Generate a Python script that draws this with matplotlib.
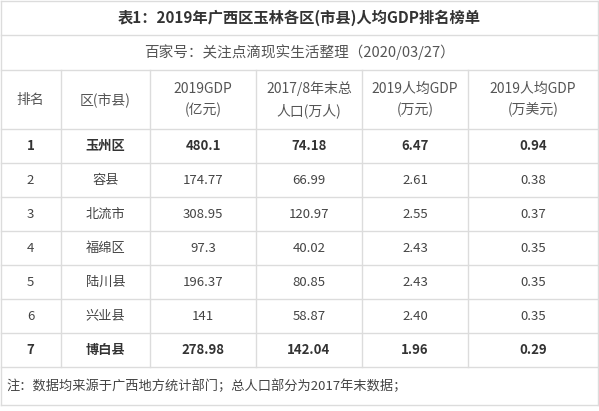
import matplotlib
matplotlib.use("Agg")
import matplotlib.pyplot as plt

plt.rcParams['font.family'] = ['Noto Sans CJK SC', 'DejaVu Sans']

title = "表1：2019年广西区玉林各区(市县)人均GDP排名榜单"
subtitle = "百家号：关注点滴现实生活整理（2020/03/27）"
headers = ["排名", "区(市县)", "2019GDP\n(亿元)", "2017/8年末总\n人口(万人)", "2019人均GDP\n(万元)", "2019人均GDP\n(万美元)"]
rank = ["1", "2", "3", "4", "5", "6", "7"]
regions = ["玉州区", "容县", "北流市", "福绵区", "陆川县", "兴业县", "博白县"]
gdp = ["480.1", "174.77", "308.95", "97.3", "196.37", "141", "278.98"]
pop = ["74.18", "66.99", "120.97", "40.02", "80.85", "58.87", "142.04"]
per_cny = ["6.47", "2.61", "2.55", "2.43", "2.43", "2.40", "1.96"]
per_usd = ["0.94", "0.38", "0.37", "0.35", "0.35", "0.35", "0.29"]
bold_rows = [0, 6]
note = "注：数据均来源于广西地方统计部门；总人口部分为2017年末数据；"

W, H = 599, 411
fig = plt.figure(figsize=(W/100, H/100), dpi=100)
ax = fig.add_axes([0, 0, 1, 1])
ax.set_xlim(0, W); ax.set_ylim(H, 0); ax.axis('off')

lc = '#dcdcdc'
xs = [0, 61, 150, 256, 362, 468, 598]
ys = [1, 35, 70, 129] + [129 + 34*(i+1) for i in range(7)] + [405]
tc = '#333333'

for y in ys:
    ax.plot([0.5, 598], [y, y], color=lc, lw=1)
for x in [0.5, 598]:
    ax.plot([x, x], [1, 405], color=lc, lw=1)
for x in xs[1:-1]:
    ax.plot([x, x], [70, ys[-2]], color=lc, lw=1)

ax.text(W/2, 18, title, ha='center', va='center', fontsize=11, fontweight='bold', color=tc)
ax.text(W/2, 52.5, subtitle, ha='center', va='center', fontsize=10.5, color='#555555')
for i, h in enumerate(headers):
    ax.text((xs[i]+xs[i+1])/2, 99.5, h, ha='center', va='center', fontsize=10,
            color='#555555', linespacing=1.6)
cols = [rank, regions, gdp, pop, per_cny, per_usd]
for r in range(7):
    yc = 129 + 34*r + 17
    for c, col in enumerate(cols):
        ax.text((xs[c]+xs[c+1])/2, yc, col[r], ha='center', va='center', fontsize=9.5,
                color=tc if r in bold_rows else '#444444',
                fontweight='bold' if r in bold_rows else 'normal')
ax.text(6, (ys[-2]+405)/2, note, ha='left', va='center', fontsize=9.5, color='#444444')

fig.savefig("out.png", dpi=100, facecolor='white')
